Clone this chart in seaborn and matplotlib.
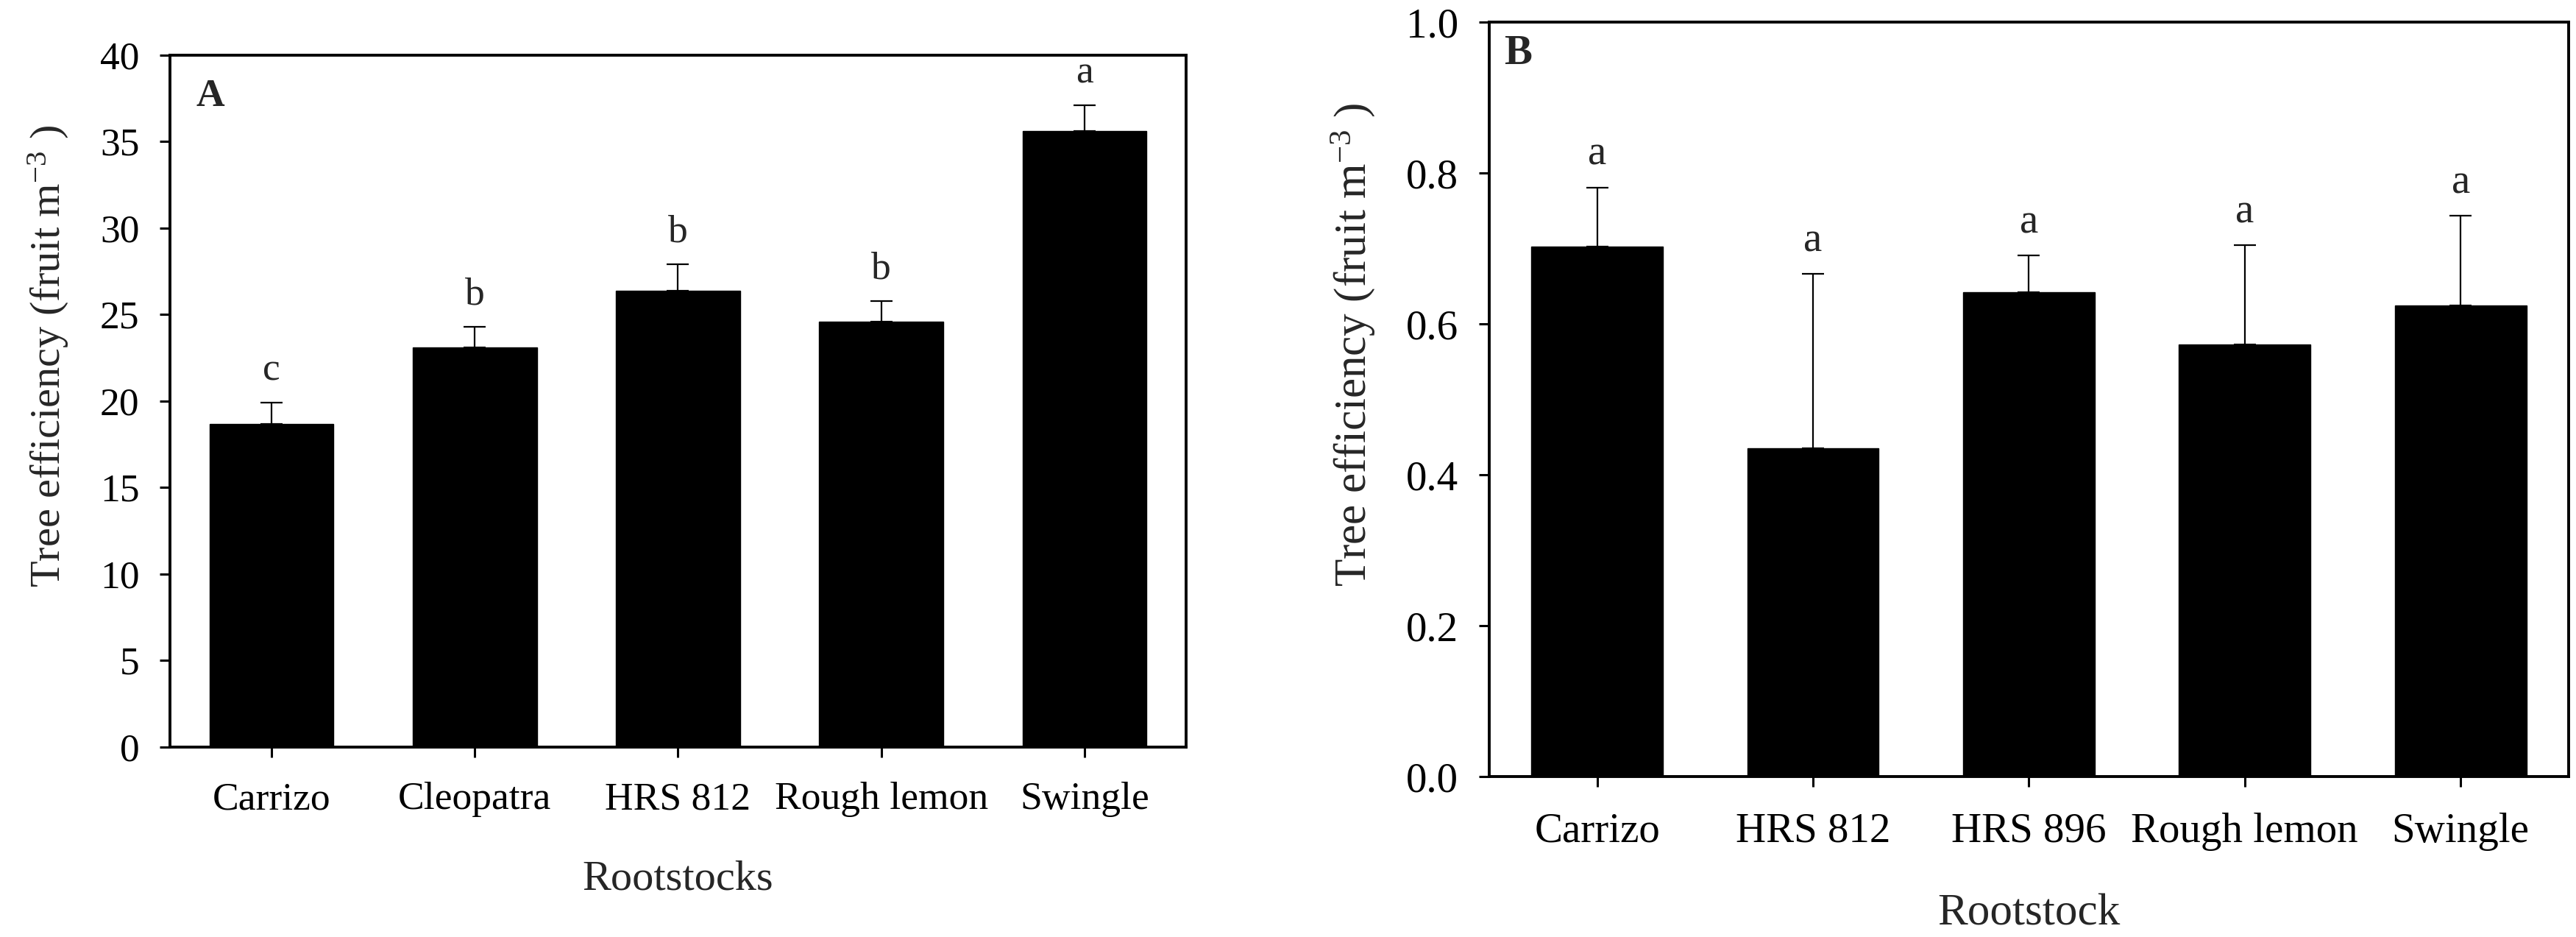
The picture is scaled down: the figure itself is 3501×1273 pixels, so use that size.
import matplotlib
matplotlib.use("Agg")
import matplotlib.pyplot as plt
import pandas as pd
import seaborn as sns

# Panel A data
rootstocks_a = ["Carrizo", "Cleopatra", "HRS 812", "Rough lemon", "Swingle"]
efficiency_a = [18.7, 23.1, 26.4, 24.6, 35.6]
err_a = [1.2, 1.2, 1.5, 1.2, 1.5]
letters_a = ["c", "b", "b", "b", "a"]

# Panel B data
rootstocks_b = ["Carrizo", "HRS 812", "HRS 896", "Rough lemon", "Swingle"]
efficiency_b = [0.702, 0.435, 0.642, 0.573, 0.624]
err_b = [0.079, 0.231, 0.049, 0.131, 0.119]
letters_b = ["a", "a", "a", "a", "a"]

sns.set_theme(style="ticks")
plt.rcParams["font.family"] = ["Liberation Serif", "DejaVu Serif"]
plt.rcParams["mathtext.fontset"] = "custom"
plt.rcParams["mathtext.rm"] = "Liberation Serif"
plt.rcParams["mathtext.it"] = "Liberation Serif:italic"

fig = plt.figure(figsize=(35.01, 12.73), dpi=100)
ax_a = fig.add_axes([0.066, 0.2027, 0.3944, 0.7384])
ax_b = fig.add_axes([0.5781, 0.1712, 0.419, 0.8052])


def draw_panel(ax, cats, vals, errs, letters, ylim, yticks, fmt, xlabel, tag,
               fs_tick, fs_label, tag_pos, xpad, ylab_pos, tickpad):
    df = pd.DataFrame({"rootstock": cats, "eff": vals})
    sns.barplot(data=df, x="rootstock", y="eff", color="black",
                edgecolor="black", width=0.61, saturation=1, errorbar=None, ax=ax)
    pos = range(len(cats))
    ax.errorbar(list(pos), vals, yerr=[[0] * len(errs), errs], fmt="none",
                ecolor="black", elinewidth=1.6, capsize=11, capthick=1.6)
    for x, v, e, lab in zip(pos, vals, errs, letters):
        ax.annotate(lab, (x, v + e), xytext=(0, 22), textcoords="offset points",
                    ha="center", va="baseline", fontsize=fs_tick)
    ax.set_xlim(-0.5, len(cats) - 0.5)
    ax.set_ylim(*ylim)
    ax.set_yticks(yticks)
    ax.set_yticklabels([fmt.format(t) for t in yticks])
    ax.set_xlabel(xlabel, fontsize=fs_label, labelpad=xpad)
    ax.set_ylabel("Tree efficiency (fruit m$^{-3}$ )", fontsize=fs_label)
    ax.yaxis.set_label_coords(*ylab_pos)
    ax.tick_params(axis="both", direction="out", length=10, width=2.2,
                   labelsize=fs_tick, pad=20, colors="black")
    ax.tick_params(axis="x", pad=tickpad)
    for sp in ax.spines.values():
        sp.set_visible(True)
        sp.set_linewidth(2.8)
        sp.set_color("black")
    ax.text(tag_pos[0], tag_pos[1], tag, transform=ax.transAxes,
            fontsize=fs_tick, fontweight="bold", ha="left", va="baseline")


draw_panel(ax_a, rootstocks_a, efficiency_a, err_a, letters_a, (0, 40),
           [0, 5, 10, 15, 20, 25, 30, 35, 40], "{:g}", "Rootstocks", "A",
           38.5, 42, (0.026, 0.927), 42, (-0.098, 0.565), 24)
draw_panel(ax_b, rootstocks_b, efficiency_b, err_b, letters_b, (0, 1.0),
           [0.0, 0.2, 0.4, 0.6, 0.8, 1.0], "{:.1f}", "Rootstock", "B",
           41, 44, (0.014, 0.944), 42, (-0.104, 0.573), 25)

fig.savefig("out.png", dpi=100, facecolor="white")
